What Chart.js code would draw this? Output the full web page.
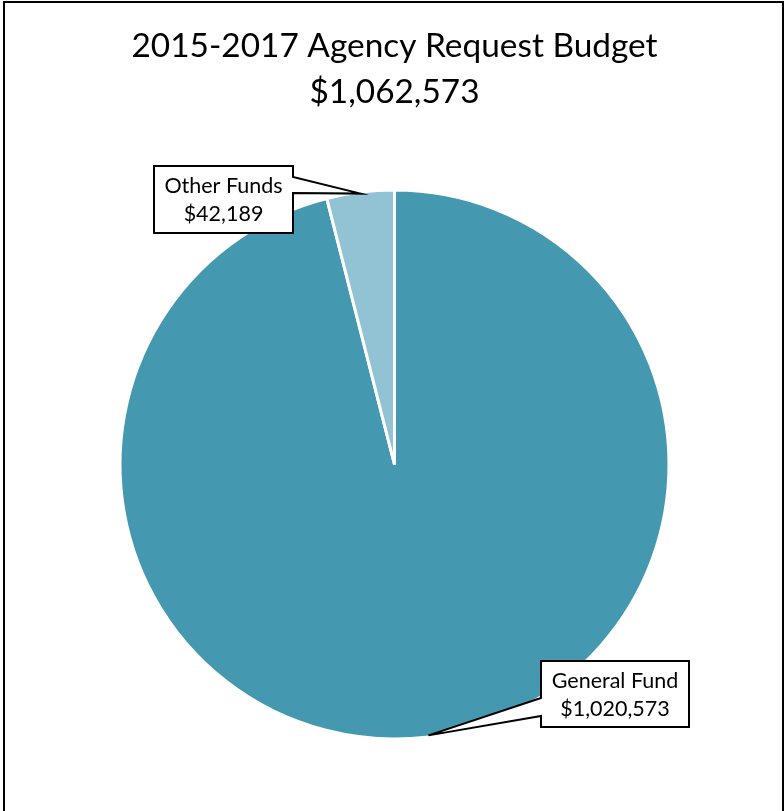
<!DOCTYPE html>
<html>
<head>
<meta charset="utf-8">
<title>2015-2017 Agency Request Budget</title>
<style>
  html, body { margin: 0; padding: 0; background: #fff; overflow: hidden; }
  #wrap { position: relative; width: 784px; height: 811px; }
  #frame {
    position: absolute; left: 3px; top: 1px; width: 777px; height: 830px;
    border: 2px solid #000; border-bottom: none; pointer-events: none;
  }
  canvas { position: absolute; left: 0; top: 0; }
</style>
</head>
<body>
<div id="wrap">
  <canvas id="budgetPie" width="784" height="811"></canvas>
  <div id="frame"></div>
</div>

<script src="https://cdn.jsdelivr.net/npm/chart.js"></script>
<script>
// Budget split by fund
const categories = ['General Fund', 'Other Funds'];
const amounts = [1020573, 42189];
const titleLines = ['2015-2017 Agency Request Budget', '$1,062,573'];
const sliceColors = ['#4499B1', '#92C3D5'];

const FONT = 'Lato, "Open Sans", sans-serif';

function money(v) {
    return '$' + v.toLocaleString('en-US');
}

// Callout boxes with a wedge pointing at the middle of each slice's rim
const calloutPlugin = {
    id: 'callouts',
    afterDatasetsDraw(chart, args, opts) {
        const ctx = chart.ctx;
        const meta = chart.getDatasetMeta(0);
        meta.data.forEach((arc, i) => {
            const box = opts.boxes[i];
            if (!box) return;
            const p = arc.getProps(['x', 'y', 'startAngle', 'endAngle', 'outerRadius'], true);
            const mid = (p.startAngle + p.endAngle) / 2;
            const r = p.outerRadius - 1.5;
            const tipX = p.x + Math.cos(mid) * r;
            const tipY = p.y + Math.sin(mid) * r;

            const l = box.x, t = box.y, rt = box.x + box.w, b = box.y + box.h;
            ctx.save();
            ctx.beginPath();
            ctx.moveTo(l, t);
            ctx.lineTo(rt, t);
            if (box.side === 'right') {
                ctx.lineTo(rt, t + box.base[0]);
                ctx.lineTo(tipX, tipY);
                ctx.lineTo(rt, t + box.base[1]);
            }
            ctx.lineTo(rt, b);
            ctx.lineTo(l, b);
            if (box.side === 'left') {
                ctx.lineTo(l, t + box.base[1]);
                ctx.lineTo(tipX, tipY);
                ctx.lineTo(l, t + box.base[0]);
            }
            ctx.closePath();
            ctx.fillStyle = '#ffffff';
            ctx.fill();
            ctx.lineWidth = 2;
            ctx.lineJoin = 'miter';
            ctx.strokeStyle = '#000000';
            ctx.stroke();

            ctx.fillStyle = '#000000';
            ctx.font = '21.5px ' + FONT;
            ctx.textAlign = 'center';
            ctx.textBaseline = 'middle';
            const cx = l + box.w / 2;
            const cy = t + box.h / 2 + 1;
            ctx.fillText(chart.data.labels[i], cx, cy - 14);
            ctx.fillText(money(chart.data.datasets[0].data[i]), cx, cy + 14);
            ctx.restore();
        });
    }
};

const ctx = document.getElementById('budgetPie').getContext('2d');
const chart = new Chart(ctx, {
    type: 'pie',
    data: {
        labels: categories,
        datasets: [{
            data: amounts,
            backgroundColor: sliceColors,
            borderColor: '#ffffff',
            borderWidth: 3,
            hoverOffset: 0
        }]
    },
    options: {
        responsive: false,
        animation: false,
        layout: {
            padding: { left: 118.5, right: 113.5, top: 0, bottom: 70.5 }
        },
        plugins: {
            legend: { display: false },
            tooltip: { enabled: false },
            title: {
                display: true,
                text: titleLines,
                color: '#000000',
                font: { family: FONT, size: 33.4, weight: 'normal', lineHeight: 46 / 33.4 },
                padding: { top: 23, bottom: 73.5 }
            },
            callouts: {
                boxes: [
                    { x: 541, y: 661, w: 148, h: 66, side: 'left', base: [37, 55] },
                    { x: 154, y: 166, w: 139, h: 67, side: 'right', base: [11, 27] }
                ]
            }
        }
    },
    plugins: [calloutPlugin]
});
</script>
</body>
</html>
